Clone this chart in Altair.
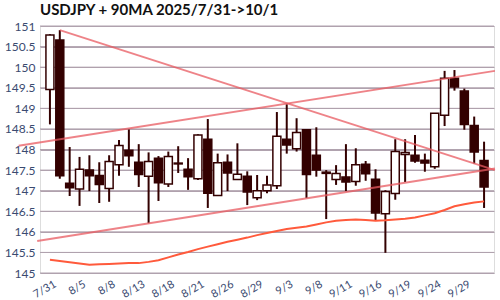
import altair as alt
import pandas as pd

dates = ["7/31","8/1","8/4","8/5","8/6","8/7","8/8","8/11","8/12","8/13","8/14","8/15",
         "8/18","8/19","8/20","8/21","8/22","8/25","8/26","8/27","8/28","8/29","9/1","9/2",
         "9/3","9/4","9/5","9/8","9/9","9/10","9/11","9/12","9/15","9/16","9/17","9/18",
         "9/19","9/22","9/23","9/24","9/25","9/26","9/29","9/30","10/1"]
opens  = [149.46,150.66,147.18,147.04,147.50,147.37,147.05,147.63,147.98,147.69,147.35,147.79,
          147.16,147.67,147.52,147.29,148.25,146.88,147.69,147.27,147.35,146.83,147.00,147.12,
          148.25,148.02,148.48,147.86,147.45,147.27,147.33,147.22,147.64,147.28,146.44,146.93,
          147.88,147.86,147.74,147.58,148.83,149.73,149.42,148.58,147.73]
highs  = [150.80,150.90,148.06,147.82,147.86,147.69,147.86,148.23,148.49,148.13,147.93,147.84,
          147.95,148.08,147.79,148.37,148.74,147.90,147.88,148.15,147.47,147.38,147.36,148.91,
          149.10,148.76,148.49,148.54,147.50,147.62,148.13,148.03,147.72,147.52,147.01,148.25,
          148.25,148.35,147.90,148.88,149.91,149.93,149.48,148.80,148.19]
lows   = [148.61,147.29,146.87,146.63,146.99,146.70,146.73,147.36,147.58,147.09,146.21,146.75,
          147.09,147.43,147.02,147.26,146.58,146.88,146.99,147.27,146.65,146.77,146.94,147.04,
          147.90,147.95,146.82,147.34,146.31,147.14,146.99,147.12,147.24,146.28,145.49,146.78,
          147.21,147.68,147.46,147.53,148.57,149.43,148.48,147.66,146.58]
closes = [150.78,147.36,147.07,147.52,147.36,147.15,147.71,148.10,147.85,147.39,147.71,147.19,
          147.83,147.65,147.34,148.35,146.94,147.68,147.43,147.40,146.97,147.00,147.14,148.32,
          148.11,148.41,147.39,147.50,147.42,147.42,147.21,147.63,147.41,146.46,146.98,147.95,
          147.93,147.72,147.67,148.88,149.73,149.52,148.61,147.94,147.09]
ma90   = [145.32,145.29,145.26,145.23,145.20,145.21,145.22,145.23,145.24,145.24,145.27,145.31,
          145.38,145.45,145.51,145.58,145.64,145.70,145.76,145.81,145.86,145.92,145.97,146.02,
          146.07,146.10,146.13,146.18,146.23,146.27,146.29,146.30,146.29,146.27,146.28,146.30,
          146.32,146.35,146.40,146.45,146.53,146.62,146.67,146.71,146.74]
y_ticks = [145, 145.5, 146, 146.5, 147, 147.5, 148, 148.5, 149, 149.5, 150, 150.5, 151]

trend_id = ["A", "B", "C"]
trend_x0 = [1.0, -3.17, -1.29]
trend_y0 = [150.90, 148.09, 145.78]
trend_x1 = [45.1, 45.1, 45.1]
trend_y1 = [147.50, 149.91, 147.54]

n = len(dates)
candles = pd.DataFrame({
    "idx": list(range(n)), "date": dates,
    "open": opens, "high": highs, "low": lows, "close": closes,
})
candles["up"] = candles["close"] >= candles["open"]
ma_df = pd.DataFrame({"idx": list(range(n)), "ma": ma90})
grid_df = pd.DataFrame({"v": y_ticks})
rows = []
for t, x0, y0, x1, y1 in zip(trend_id, trend_x0, trend_y0, trend_x1, trend_y1):
    rows.append({"line": t, "x": x0, "y": y0})
    rows.append({"line": t, "x": x1, "y": y1})
trend_df = pd.DataFrame(rows)

label_expr = "[" + ",".join("'" + d + "'" for d in dates) + "][datum.value]"

xscale = alt.Scale(domain=[-0.5, n - 0.5], nice=False, zero=False)
yscale = alt.Scale(domain=[145, 151], nice=False, zero=False)

xaxis = alt.Axis(values=list(range(0, n, 3)), labelExpr=label_expr, labelAngle=-30,
                 labelAlign="right", labelBaseline="top", labelPadding=5, labelOffset=2,
                 labelOverlap=False, labelFlush=False, labelBound=False,
                 grid=False, domain=False, ticks=False, title=None,
                 labelFont="Lato", labelFontSize=11, labelColor="#3a4a70")
yaxis = alt.Axis(values=y_ticks, format=".1~f", grid=True, gridColor="#b0a2ae",
                 gridOpacity=1, gridWidth=1,
                 labelOverlap=False, labelFlush=False, domain=False, ticks=False,
                 title=None, labelPadding=5, labelFont="Lato", labelFontSize=12,
                 labelColor="#3a4a70")

grid = alt.Chart(grid_df).mark_rule(color="#b0a2ae", strokeWidth=1, strokeOpacity=1).encode(
    y=alt.Y("v:Q", scale=yscale, axis=yaxis),
    x=alt.value(0),
    x2=alt.value(454),
)
base = alt.Chart(candles)
wicks = base.mark_rule(color="#330000", strokeWidth=2).encode(
    x=alt.X("idx:Q", scale=xscale, axis=xaxis),
    y=alt.Y("low:Q", scale=yscale, axis=yaxis),
    y2="high:Q",
)
bodies = base.mark_bar(size=8, stroke="#330000", strokeWidth=1.5).encode(
    x=alt.X("idx:Q", scale=xscale, axis=xaxis),
    y=alt.Y("open:Q", scale=yscale, axis=yaxis),
    y2="close:Q",
    fill=alt.condition("datum.up", alt.value("#ffffff"), alt.value("#330000")),
)
ma_line = alt.Chart(ma_df).mark_line(color="#ff5a3c", strokeWidth=2).encode(
    x=alt.X("idx:Q", scale=xscale, axis=xaxis),
    y=alt.Y("ma:Q", scale=yscale, axis=yaxis),
)
trend = alt.Chart(trend_df).mark_line(color="#e85a60", strokeWidth=2, opacity=0.75, clip=False).encode(
    x=alt.X("x:Q", scale=xscale, axis=xaxis),
    y=alt.Y("y:Q", scale=yscale, axis=yaxis),
    detail="line:N",
)

chart = alt.layer(grid, wicks, bodies, ma_line, trend).properties(
    width=454, height=247,
    title=alt.TitleParams("USDJPY + 90MA 2025/7/31->10/1", anchor="start", frame="group",
                          font="Lato", fontSize=15, fontWeight="bold", color="#111111", offset=2),
    autosize=alt.AutoSizeParams(type="none"),
    padding={"left": 40, "top": 26, "right": 6, "bottom": 27},
).configure_view(fill="#ccffff", stroke=None).configure(background="#ffffff")

chart.save("out.html", embed_options={"renderer": "svg", "actions": False})
